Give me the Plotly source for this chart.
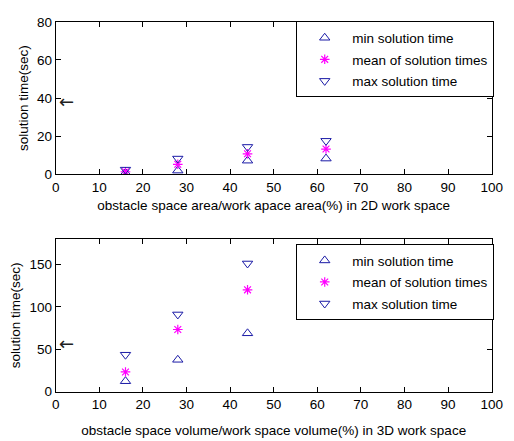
import plotly.graph_objects as go

# ---- data ----
x2d = [16, 28, 44, 62]
min2d = [0.8, 2.0, 7.2, 8.3]
mean2d = [1.4, 5.3, 10.8, 13.3]
max2d = [2.5, 8.3, 14.4, 17.6]

x3d = [16, 28, 44]
min3d = [12.4, 37.6, 68.8]
mean3d = [23.3, 73.3, 120.0]
max3d = [43.6, 91.0, 151.0]

xticks = [0, 10, 20, 30, 40, 50, 60, 70, 80, 90, 100]
yticks_top = [0, 20, 40, 60, 80]
yticks_bot = [0, 50, 100, 150]

names = ["min solution time", "mean of solution times", "max solution time"]

BLUE = "#1a1aa6"
MAG = "#ff00ff"
FONT = "Liberation Sans, Arial, sans-serif"
FS = 13.5

fig = go.Figure()

def add_set(xs, mins, means, maxs, xa, ya, leg):
    fig.add_trace(go.Scatter(x=xs, y=mins, mode="markers", name=names[0],
                             xaxis=xa, yaxis=ya, legend=leg, legendgroup=leg + "a",
                             marker=dict(symbol="triangle-up-open", size=9,
                                         color=BLUE, line=dict(width=1, color=BLUE))))
    fig.add_trace(go.Scatter(x=xs, y=means, mode="markers", name=names[1],
                             xaxis=xa, yaxis=ya, legend=leg, legendgroup=leg + "b",
                             marker=dict(symbol="asterisk-open", size=8,
                                         color=MAG, line=dict(width=1.2, color=MAG))))
    fig.add_trace(go.Scatter(x=xs, y=maxs, mode="markers", name=names[2],
                             xaxis=xa, yaxis=ya, legend=leg, legendgroup=leg + "c",
                             marker=dict(symbol="triangle-down-open", size=9,
                                         color=BLUE, line=dict(width=1, color=BLUE))))

add_set(x2d, min2d, mean2d, max2d, "x", "y", "legend")
add_set(x3d, min3d, mean3d, max3d, "x2", "y2", "legend2")

W, H = 514, 441
xdom = [53.3 / W, 502.3 / W]
ydom_top = [1 - 173.3 / H, 1 - 15.3 / H]
ydom_bot = [1 - 398.3 / H, 1 - 240 / H]

axcommon = dict(showline=True, linecolor="#000000", linewidth=1, mirror="ticks",
                ticks="inside", ticklen=5, tickcolor="#000000", showgrid=False,
                zeroline=False, tickfont=dict(family=FONT, size=FS, color="#000000"))

legcommon = dict(xanchor="left", yanchor="top", bgcolor="white",
                 bordercolor="#000000", borderwidth=1,
                 font=dict(family=FONT, size=FS), itemwidth=45, tracegroupgap=1)

fig.update_layout(
    width=W, height=H, margin=dict(l=0, r=0, t=0, b=0),
    paper_bgcolor="white", plot_bgcolor="white",
    font=dict(family=FONT, size=FS, color="#000000"),
    xaxis=dict(domain=xdom, range=[0, 100], tickvals=xticks, anchor="y",
               title=dict(text="obstacle space area/work apace area(%) in 2D work space",
                          standoff=6, font=dict(size=FS)), **axcommon),
    yaxis=dict(domain=ydom_top, range=[0, 80], tickvals=yticks_top, anchor="x",
               title=dict(text="solution time(sec)", standoff=5, font=dict(size=FS)),
               **axcommon),
    xaxis2=dict(domain=xdom, range=[0, 100], tickvals=xticks, anchor="y2",
                title=dict(text="obstacle space volume/work space volume(%) in 3D work space",
                           standoff=14, font=dict(size=FS)), **axcommon),
    yaxis2=dict(domain=ydom_bot, range=[0, 180], tickvals=yticks_bot, anchor="x2",
                title=dict(text="solution time(sec)", standoff=5, font=dict(size=FS)),
                **axcommon),
    legend=dict(x=301 / W, y=1 - 15 / H, **legcommon),
    legend2=dict(x=301 / W, y=1 - 245.5 / H, **legcommon),
    showlegend=True,
)

fig.add_annotation(x=2.4, y=38.3, xref="x", yref="y", text="←", showarrow=False,
                   font=dict(family="DejaVu Sans", size=18, color="#222222"))
fig.add_annotation(x=2.4, y=56.4, xref="x2", yref="y2", text="←", showarrow=False,
                   font=dict(family="DejaVu Sans", size=18, color="#222222"))

fig.write_html("out.html", config={"displayModeBar": False},
               post_script="document.body.style.margin='0';")
